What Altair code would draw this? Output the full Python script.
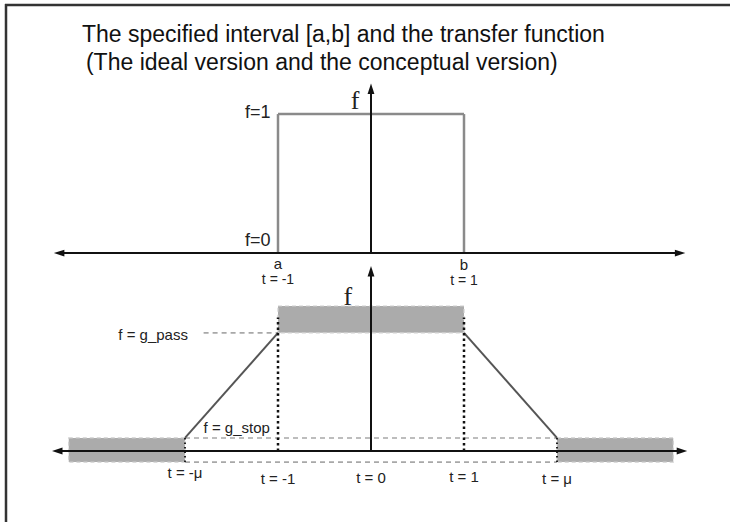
import altair as alt
import pandas as pd

# ---- diagram values (t units horizontally, f units vertically) ----
mu = 2.0
g_pass = 0.85
g_stop = 0.094
band_top = 1.043
band_low = -0.08
top_offset = 1.424           # vertical offset of the upper (ideal) panel
axis_left, axis_right = -3.41, 3.38
top_arrow_f = 1.22           # height of f-axis arrow, upper panel
bot_arrow_f = 1.331          # height of f-axis arrow, lower panel
band_outer = 3.25            # outer end of the stop bands

tick_t = [-mu, -1, 0, 1, mu]
tick_labels = ["t = -\u03bc", "t = -1", "t = 0", "t = 1", "t = \u03bc"]
tick_label_y = [-0.16, -0.2, -0.195, -0.19, -0.2]

title_lines = ["The specified interval [a,b] and the transfer function",
               "(The ideal version and the conceptual version)"]
title_x = [-3.108, -3.065]
title_y = [2.993, 2.791]

XMIN, XMAX = -371 / 93, 359 / 93
YMIN, YMAX = -71 / 139, 451 / 139

xs = alt.Scale(domain=[XMIN, XMAX], nice=False, zero=False)
ys = alt.Scale(domain=[YMIN, YMAX], nice=False, zero=False)


def X(f="x"):
    return alt.X(f"{f}:Q", scale=xs, axis=None)


def Y(f="y"):
    return alt.Y(f"{f}:Q", scale=ys, axis=None)


def segs(rows, color, width, dash=None):
    df = pd.DataFrame(rows, columns=["x", "y", "x2", "y2"])
    kw = dict(color=color, strokeWidth=width)
    if dash:
        kw["strokeDash"] = dash
    return alt.Chart(df).mark_rule(**kw).encode(
        x=X(), y=Y(), x2="x2:Q", y2="y2:Q")


def arrows(rows, path, size=110):
    df = pd.DataFrame(rows, columns=["x", "y"])
    return alt.Chart(df).mark_point(shape=path, filled=True, size=size,
                                    color="#111", opacity=1).encode(x=X(), y=Y())


def texts(xv, yv, labels, align="center", size=13, font="Liberation Sans",
          color="#222", baseline="middle"):
    df = pd.DataFrame({"x": xv, "y": yv, "label": labels})
    return alt.Chart(df).mark_text(align=align, baseline=baseline, fontSize=size,
                                   font=font, color=color).encode(
        x=X(), y=Y(), text="label:N")


R = "M0,0 L-2,-0.65 L-2,0.65 Z"
L = "M0,0 L2,-0.65 L2,0.65 Z"
U = "M0,0 L-0.65,2 L0.65,2 Z"

layers = []

# frame (left and top edges only visible)
frame = alt.Chart(pd.DataFrame({"k": [0]})).mark_rule(color="#333", strokeWidth=2.5)
layers.append(frame.encode(x=alt.value(6), x2=alt.value(6), y=alt.value(4), y2=alt.value(522)))
layers.append(frame.encode(x=alt.value(5), x2=alt.value(730), y=alt.value(5), y2=alt.value(5)))

# title
layers.append(texts(title_x, title_y, title_lines, align="left", size=23, color="#111"))

# ---------------- upper panel ----------------
T = top_offset
layers.append(segs([[-1, T, -1, T + 1], [-1, T + 1, 1, T + 1], [1, T + 1, 1, T]],
                   "#8a8a8a", 2.5))
layers.append(segs([[axis_left + 0.05, T, axis_right - 0.05, T]], "#111", 2))
layers.append(segs([[0, T, 0, T + top_arrow_f - 0.05]], "#111", 2))
layers.append(arrows([[axis_right, T]], R))
layers.append(arrows([[axis_left, T]], L))
layers.append(arrows([[0, T + top_arrow_f]], U))
layers.append(texts([-1.08, -1.08], [T + 1.008, T + 0.087], ["f=1", "f=0"],
                    align="right", size=18))
layers.append(texts([-1, 1], [T - 0.08, T - 0.085], ["a", "b"], size=15))
layers.append(texts([-1, 1], [T - 0.195, T - 0.2], ["t = -1", "t = 1"], size=14))
layers.append(texts([-0.17], [T + 1.094], ["f"], size=26, font="Liberation Serif"))

# ---------------- lower panel ----------------
band_df = pd.DataFrame({
    "x": [-1, -band_outer, mu],
    "x2": [1, -mu, band_outer],
    "y": [g_pass, band_low, band_low],
    "y2": [band_top, g_stop, g_stop],
})
layers.append(alt.Chart(band_df).mark_rect(color="#ababab", stroke="#cfcfcf",
                                           strokeWidth=1.2, strokeDash=[4, 3]).encode(
    x=X(), x2="x2:Q", y=Y(), y2="y2:Q"))

# dashed reference lines
layers.append(segs([[-mu, g_stop, mu, g_stop], [-mu, band_low, mu, band_low],
                    [-1.8, g_pass, -1, g_pass]], "#a8a8a8", 1.6, [5, 4]))

# transition lines
layers.append(segs([[-mu, g_stop, -1, g_pass], [1, g_pass, mu, g_stop]], "#555", 2))

# dotted verticals
layers.append(segs([[-1, 0, -1, 0.96], [1, 0, 1, 0.96]], "#111", 2.5, [2.5, 3]))
layers.append(segs([[-mu, band_low, -mu, g_stop], [mu, band_low, mu, g_stop]],
                   "#222", 2, [1.5, 3]))

# axes
layers.append(segs([[axis_left + 0.05, 0, axis_right - 0.05, 0]], "#111", 2))
layers.append(segs([[0, 0, 0, bot_arrow_f - 0.05]], "#111", 2))
layers.append(arrows([[axis_right + 0.02, 0]], R))
layers.append(arrows([[axis_left - 0.02, 0]], L))
layers.append(arrows([[0, bot_arrow_f]], U))

layers.append(texts(tick_t, tick_label_y, tick_labels, size=15))
layers.append(texts([-1.968], [g_pass - 0.012], ["f = g_pass"], align="right", size=15))
layers.append(texts([-1.8], [g_stop + 0.075], ["f = g_stop"], align="left", size=15))
layers.append(texts([-0.25], [1.11], ["f"], size=26, font="Liberation Serif"))

chart = alt.layer(*layers).properties(
    width=730, height=522,
    padding=0,
    autosize=alt.AutoSizeParams(type="none"),
    background="white",
).configure_view(stroke=None)

chart.save("out.html", embed_options={"renderer": "svg", "actions": False})
